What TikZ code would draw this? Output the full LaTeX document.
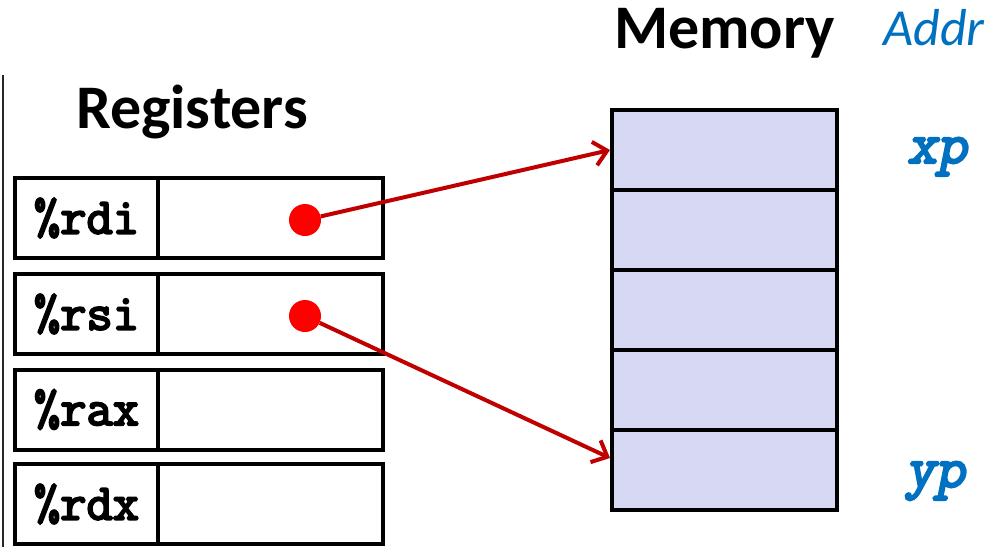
\documentclass[tikz,border=0pt]{standalone}
\usepackage{fontspec}
\setmainfont{Carlito}
\newfontfamily\codefont[FakeBold=4]{Latin Modern Mono}
\newfontfamily\ptrfont[FakeBold=4,FakeSlant=0.2]{Latin Modern Mono}
\usetikzlibrary{arrows.meta,calc}
\definecolor{addrblue}{RGB}{0,112,192}
\definecolor{memfill}{RGB}{215,217,244}
\definecolor{ptrred}{RGB}{192,0,0}
\definecolor{dotred}{RGB}{255,0,0}
\tikzset{
  cell/.style={draw=black, line width=4pt, rectangle, inner sep=0pt},
  regname/.style={cell, minimum width=143pt, minimum height=80pt,
    font=\codefont\fontsize{51}{54}\selectfont},
  regval/.style={cell, minimum width=225pt, minimum height=80pt},
  memcell/.style={cell, fill=memfill, minimum width=225pt, minimum height=80pt},
  dot/.style={circle, fill=dotred, minimum size=32pt, inner sep=0pt},
  pointer/.style={draw=ptrred, line width=4pt,
    -{Straight Barb[length=13pt,width=24pt,line width=4pt]}},
  title/.style={font=\bfseries\fontsize{62}{72}\selectfont, anchor=base},
  addr/.style={text=addrblue, anchor=base},
  ptrname/.style={addr, font=\ptrfont\fontsize{58}{62}\selectfont},
}
\begin{document}
\begin{tikzpicture}[x=1pt, y=-1pt]
\useasboundingbox (0,0) rectangle (1002,547);

% left rule
\draw[line width=2.5pt, black!85] (3,75) -- (3,547);

% titles
\node[title] (regtitle) at (192,128) {Registers};
\node[title] (memtitle) at (724.5,48) {Memory};
\node[addr, font=\itshape\fontsize{52}{60}\selectfont] (addrlbl) at (934,45) {Addr};

% register file
\node[regname] (n1) at (86.5,218) {\%rdi};
\node[regval]  (v1) at (270.5,218) {};
\node[regname] (n2) at (86.5,314) {\%rsi};
\node[regval]  (v2) at (270.5,314) {};
\node[regname] (n3) at (86.5,409.5) {\%rax};
\node[regval]  (v3) at (270.5,409.5) {};
\node[regname] (n4) at (86.5,504) {\%rdx};
\node[regval]  (v4) at (270.5,504) {};

% memory cells
\node[memcell] (m1) at (724.5,150) {};
\node[memcell] (m2) at (724.5,230) {};
\node[memcell] (m3) at (724.5,310) {};
\node[memcell] (m4) at (724.5,390) {};
\node[memcell] (m5) at (724.5,470) {};

% address labels
\node[ptrname] (xp) at (937,163) {xp};
\node[ptrname] (yp) at (935,487) {yp};

% pointers
\node[dot] (d1) at (305,220) {};
\node[dot] (d2) at (305,316) {};
\coordinate (t5) at ([yshift=12pt]m5.west);
\draw[pointer] (d1) -- (m1.west);
\draw[pointer] (d2) -- (t5);
\end{tikzpicture}
\end{document}
